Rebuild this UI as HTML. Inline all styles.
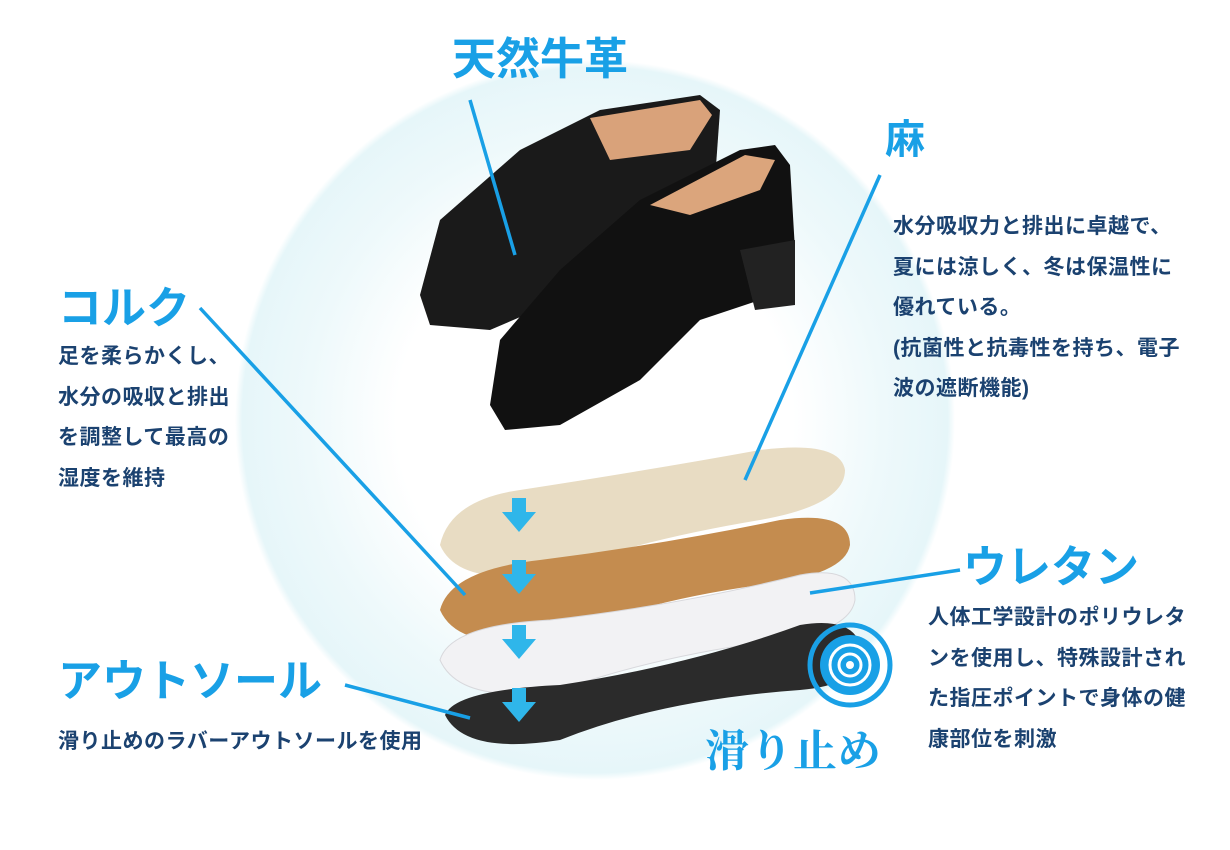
<!DOCTYPE html>
<html><head><meta charset="utf-8"><style>
body{margin:0;width:1230px;height:850px;background:#fff;position:relative;overflow:hidden;font-family:"Liberation Sans","Noto Sans CJK JP",sans-serif}
.t{position:absolute;color:#19a0e6;font-weight:bold;font-size:44px;line-height:1;white-space:nowrap}
.p{position:absolute;color:#1b4270;font-weight:bold;font-size:21px;line-height:40.5px;white-space:nowrap;letter-spacing:0.5px}
svg{position:absolute;left:0;top:0}
</style></head><body>
<svg width="1230" height="850">
<defs>
<radialGradient id="bg" cx="595" cy="420" r="360" gradientUnits="userSpaceOnUse">
<stop offset="0.55" stop-color="#ffffff"/><stop offset="0.8" stop-color="#eef9fb"/><stop offset="0.98" stop-color="#e6f6f9"/><stop offset="1" stop-color="#ffffff"/></radialGradient>
</defs>
<circle cx="595" cy="420" r="360" fill="url(#bg)"/>
<path d="M420 295 L440 220 L520 150 L600 110 L700 95 L720 110 L715 180 L680 215 L560 300 L490 330 L430 325 Z" fill="#1a1a1a"/>
<path d="M590 118 L700 100 L712 115 L690 150 L610 160 Z" fill="#d9a27a"/>
<path d="M490 405 L500 340 L560 270 L640 200 L740 150 L775 145 L790 165 L795 250 L760 300 L700 320 L640 380 L560 425 L505 430 Z" fill="#111"/>
<path d="M650 205 L745 155 L775 160 L760 190 L690 215 Z" fill="#dba57c"/>
<path d="M740 250 L795 240 L795 305 L755 310 Z" fill="#222"/>
<path d="M440 545 Q450 500 520 490 Q650 470 760 450 Q840 440 845 470 Q845 505 760 520 Q640 540 560 570 Q460 590 440 545 Z" fill="#e8dcc3"/>
<path d="M440 610 Q450 570 540 560 Q660 545 780 520 Q850 510 850 545 Q845 575 760 585 Q650 600 560 635 Q460 655 440 610 Z" fill="#c48c4f"/>
<path d="M440 660 Q450 625 550 620 Q680 605 800 575 Q855 565 855 600 Q850 630 780 640 Q660 655 560 690 Q460 705 440 660 Z" fill="#f2f2f4" stroke="#d8d8dc"/>
<path d="M445 715 Q455 690 560 685 Q690 665 800 625 Q860 615 862 655 Q858 685 800 690 Q660 700 560 740 Q465 755 445 715 Z" fill="#2b2b2b"/>
<g fill="#2fb6ea">
<path d="M512 498h14v14h10l-17 20l-17-20h10z"/>
<path d="M512 560h14v14h10l-17 20l-17-20h10z"/>
<path d="M512 625h14v14h10l-17 20l-17-20h10z"/>
<path d="M512 688h14v14h10l-17 20l-17-20h10z"/>
</g>
<circle cx="850" cy="665" r="40" fill="none" stroke="#19a0e6" stroke-width="5"/>
<circle cx="850" cy="665" r="30" fill="#19a0e6"/>
<circle cx="850" cy="665" r="20" fill="none" stroke="#fff" stroke-width="3"/>
<circle cx="850" cy="665" r="11" fill="none" stroke="#fff" stroke-width="3"/>
<circle cx="850" cy="665" r="4" fill="#fff"/>
<g stroke="#19a0e6" stroke-width="3.5" fill="none">
<line x1="470" y1="100" x2="515" y2="255"/>
<line x1="880" y1="175" x2="745" y2="480"/>
<line x1="200" y1="308" x2="465" y2="595"/>
<line x1="960" y1="570" x2="810" y2="593"/>
<line x1="345" y1="685" x2="470" y2="718"/>
</g>
</svg>
<div class="t" style="left:452px;top:38px">天然牛革</div>
<div class="t" style="left:885px;top:120px;font-size:40px">麻</div>
<div class="p" style="left:893px;top:207px">水分吸収力と排出に卓越で、<br>夏には涼しく、冬は保温性に<br>優れている。<br>(抗菌性と抗毒性を持ち、電子<br>波の遮断機能)</div>
<div class="t" style="left:58px;top:287px">コルク</div>
<div class="p" style="left:58px;top:337px">足を柔らかくし、<br>水分の吸収と排出<br>を調整して最高の<br>湿度を維持</div>
<div class="t" style="left:963px;top:546px">ウレタン</div>
<div class="p" style="left:928px;top:598px">人体工学設計のポリウレタ<br>ンを使用し、特殊設計され<br>た指圧ポイントで身体の健<br>康部位を刺激</div>
<div class="t" style="left:58px;top:660px">アウトソール</div>
<div class="p" style="left:58px;top:722px">滑り止めのラバーアウトソールを使用</div>
<div class="t" style="left:705px;top:730px;font-family:'Liberation Serif','Noto Serif CJK SC',serif">滑り止め</div>
</body></html>
